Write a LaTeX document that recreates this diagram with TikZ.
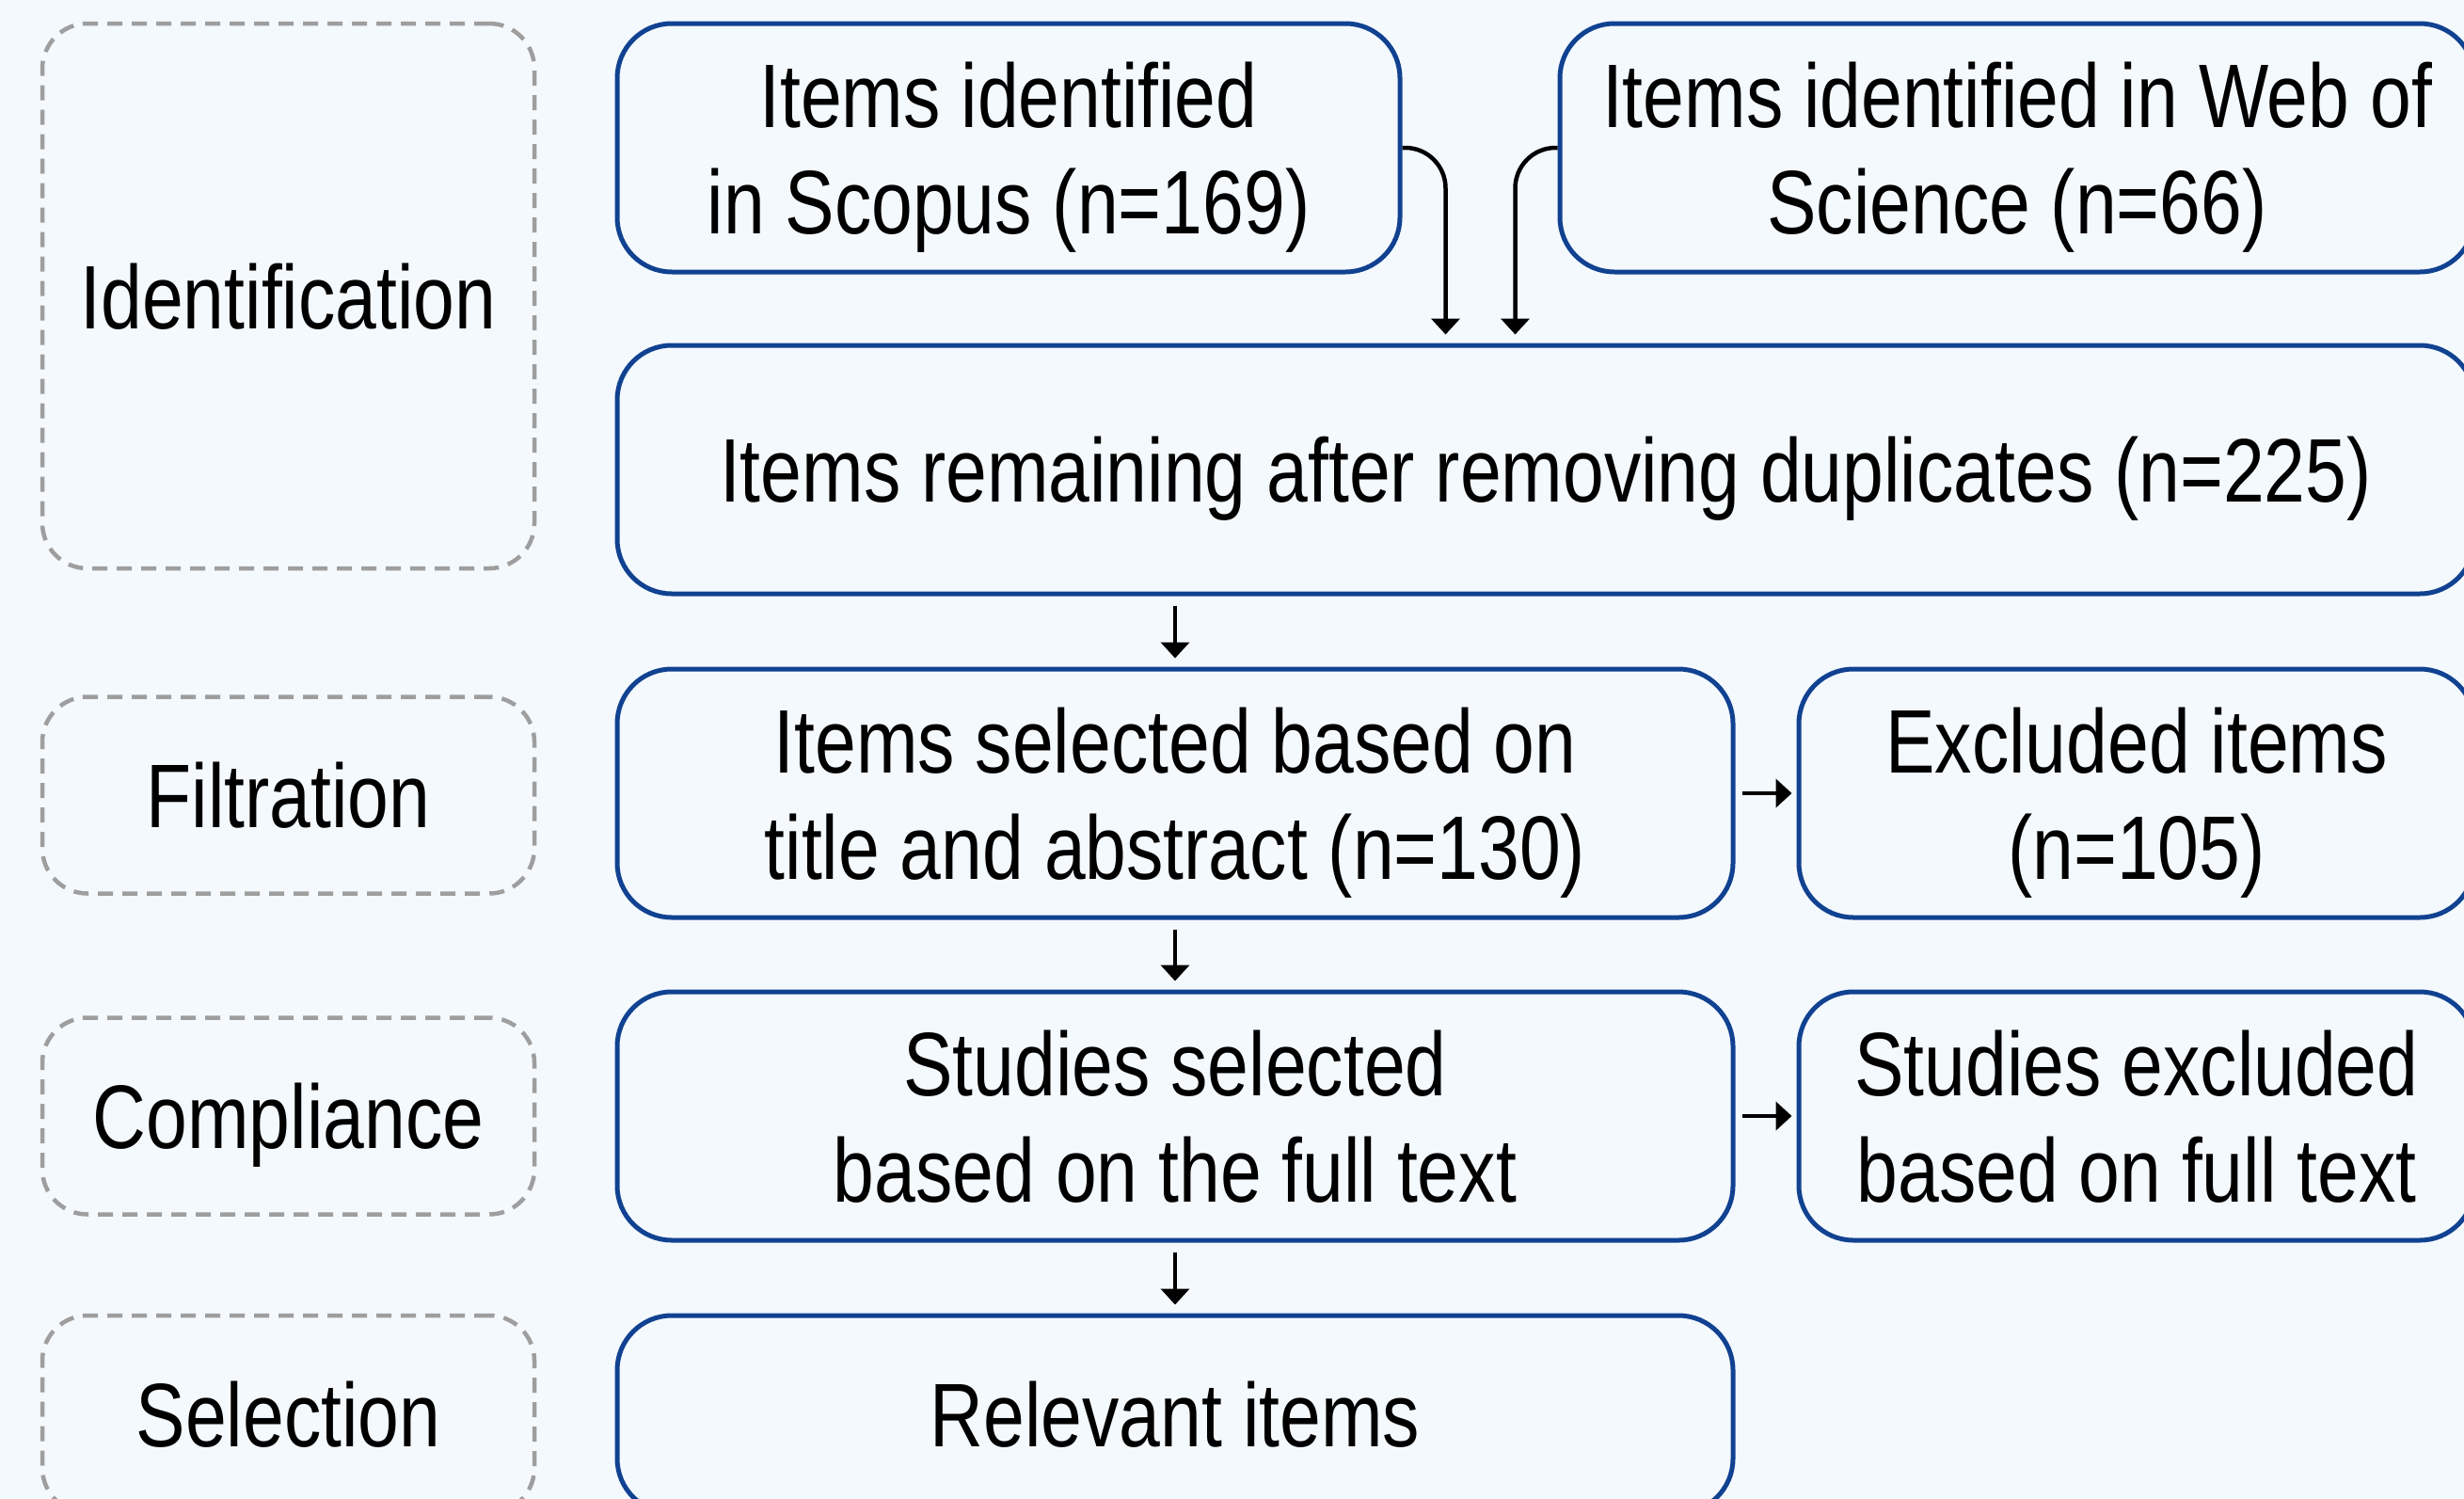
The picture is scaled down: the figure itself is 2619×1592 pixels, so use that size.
\documentclass[tikz,border=0pt]{standalone}
\usepackage{fontspec}
\setmainfont{Liberation Sans}[FakeStretch=0.82]
\usetikzlibrary{arrows.meta}
\definecolor{bgc}{RGB}{244,249,254}
\definecolor{boxblue}{RGB}{17,66,145}
\definecolor{dashgray}{RGB}{158,158,158}
\begin{document}
\begin{tikzpicture}[x=0.1mm,y=-0.1mm,
  txt/.style={align=center, text=black, inner sep=0pt, text depth=0pt, font=\fontsize{27.3}{32.3}\selectfont},
  flow/.style={txt, draw=boxblue, line width=0.5mm, rounded corners=5.8mm, fill=bgc, minimum height=26.4mm},
  phase/.style={txt, draw=dashgray, line width=0.45mm, dash pattern=on 1.6mm off 1.0mm, rounded corners=4.8mm, minimum width=52.3mm},
  arr/.style={line width=0.45mm, -{Triangle[width=3mm,length=1.7mm]}}
]
\fill[bgc] (0,0) rectangle (2619,1592);
\useasboundingbox (0,0) rectangle (2619,1592);
\clip (0,0) rectangle (2619,1592);

% phase boxes
\node[phase, minimum height=57.9mm] (ident) at (306.5,314.5) {Identification};
\node[phase, minimum height=20.9mm] (filt) at (306.5,845) {Filtration};
\node[phase, minimum height=20.9mm] (comp) at (306.5,1186) {Compliance};
\node[phase, minimum height=21mm] (selp) at (306.5,1503) {Selection};

% flow boxes
\node[flow, minimum width=83.2mm] (scopus) at (1072,157) {Items identified\\in Scopus (n=169)};
\node[flow, minimum width=97.2mm] (wos) at (2144,157) {Items identified in Web of\\Science (n=66)};
\node[flow, minimum width=197.4mm] (remain) at (1643,499) {Items remaining after removing duplicates (n=225)};
\node[flow, minimum width=118.6mm] (sel) at (1249,843) {Items selected based on\\title and abstract (n=130)};
\node[flow, minimum width=71.8mm] (exc) at (2271,843) {Excluded items\\(n=105)};
\node[flow, minimum width=118.6mm] (stud) at (1249,1186) {Studies selected\\based on the full text};
\node[flow, minimum width=71.8mm] (studex) at (2271,1186) {Studies excluded\\based on full text};
\node[flow, minimum width=118.6mm, minimum height=21mm] (rel) at (1249,1503) {Relevant items};

% connectors
\draw[arr, rounded corners=4.3mm, shorten >=0.9mm] (scopus.east) -| ([xshift=4.6mm]scopus.east |- remain.north);
\draw[arr, rounded corners=4.3mm, shorten >=0.9mm] (wos.west) -| ([xshift=-4.5mm]wos.west |- remain.north);
\draw[arr, shorten <=1mm, shorten >=0.9mm] (remain.south -| sel.north) -- (sel.north);
\draw[arr, shorten <=1mm, shorten >=0.9mm] (sel.south) -- (stud.north);
\draw[arr, shorten <=1mm, shorten >=0.9mm] (stud.south) -- (rel.north);
\draw[arr, shorten <=0.7mm, shorten >=0.5mm] (sel.east) -- (exc.west);
\draw[arr, shorten <=0.7mm, shorten >=0.5mm] (stud.east) -- (studex.west);
\end{tikzpicture}
\end{document}
